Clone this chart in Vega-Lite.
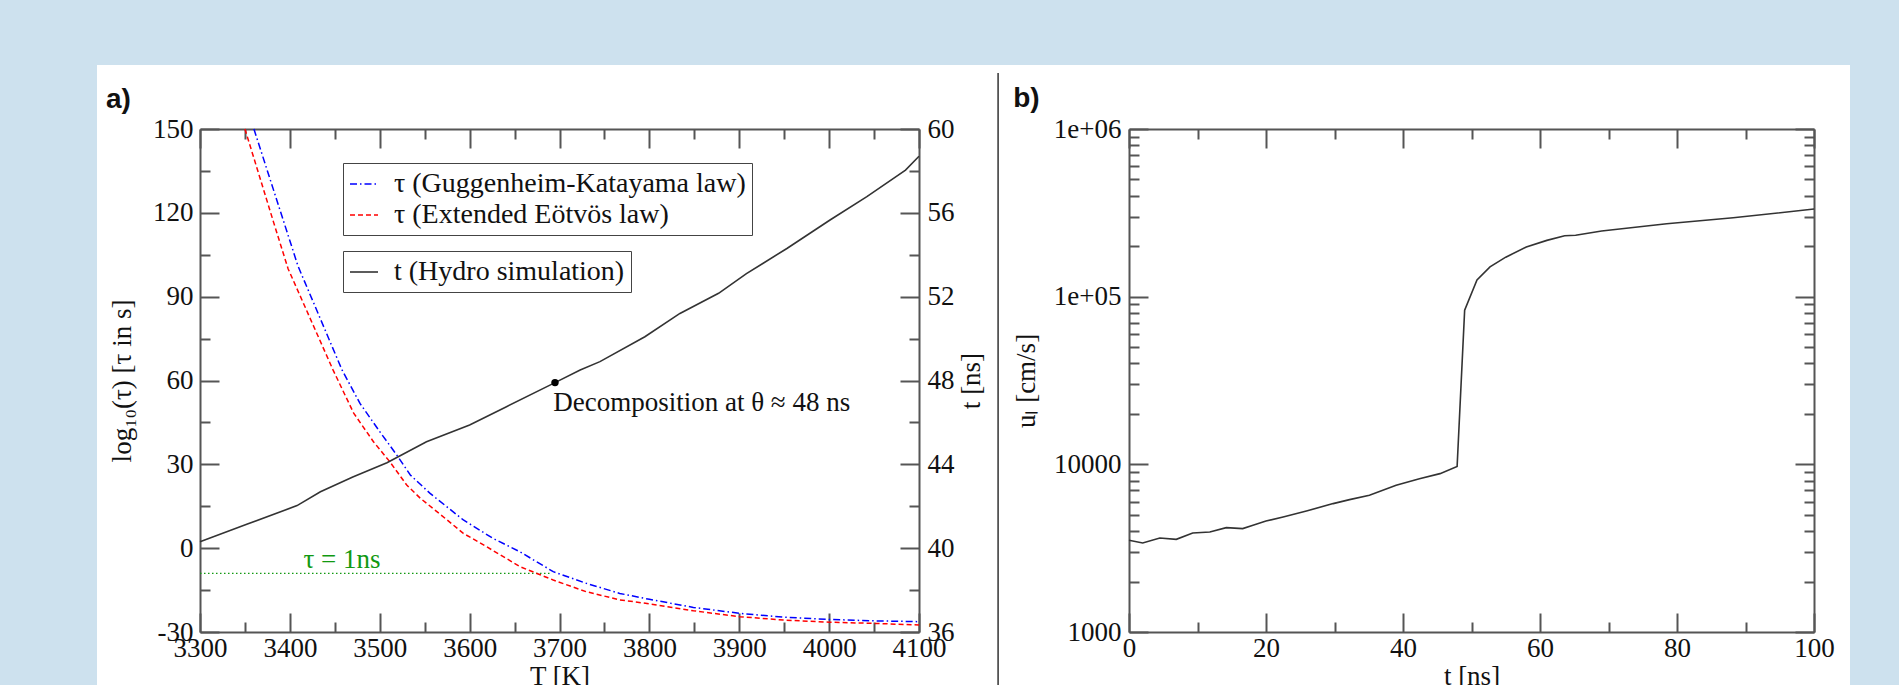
{
  "$schema": "https://vega.github.io/schema/vega-lite/v6.json",
  "width": 1753,
  "height": 620,
  "autosize": {"type": "none"},
  "padding": {"left": 97, "top": 65, "right": 49, "bottom": 0},
  "background": "#cde1ee",
  "view": {"fill": "white", "stroke": null},
  "config": {
    "font": "Liberation Serif",
    "axis": {
      "labelFont": "Liberation Serif", "titleFont": "Liberation Serif",
      "labelFontSize": 27, "titleFontSize": 27, "labelColor": "#111", "titleColor": "#111",
      "titleFontWeight": "normal", "domainColor": "#555", "tickColor": "#555",
      "domainWidth": 2, "tickWidth": 2, "grid": false, "labelOverlap": false,
      "labelFlush": false, "labelBound": false, "zindex": 1
    }
  },
  "datasets": {
    "tau": [
      {"T": 3360, "tau": 150, "series": "τ (Guggenheim-Katayama law)"},
      {"T": 3409, "tau": 101, "series": "τ (Guggenheim-Katayama law)"},
      {"T": 3458, "tau": 63.8, "series": "τ (Guggenheim-Katayama law)"},
      {"T": 3478, "tau": 51.8, "series": "τ (Guggenheim-Katayama law)"},
      {"T": 3500, "tau": 41.7, "series": "τ (Guggenheim-Katayama law)"},
      {"T": 3519, "tau": 33.3, "series": "τ (Guggenheim-Katayama law)"},
      {"T": 3534, "tau": 26.2, "series": "τ (Guggenheim-Katayama law)"},
      {"T": 3556, "tau": 19.6, "series": "τ (Guggenheim-Katayama law)"},
      {"T": 3593, "tau": 10.1, "series": "τ (Guggenheim-Katayama law)"},
      {"T": 3626, "tau": 3.5, "series": "τ (Guggenheim-Katayama law)"},
      {"T": 3656, "tau": -1.3, "series": "τ (Guggenheim-Katayama law)"},
      {"T": 3693, "tau": -8.4, "series": "τ (Guggenheim-Katayama law)"},
      {"T": 3730, "tau": -12.6, "series": "τ (Guggenheim-Katayama law)"},
      {"T": 3767, "tau": -16.2, "series": "τ (Guggenheim-Katayama law)"},
      {"T": 3800, "tau": -18.3, "series": "τ (Guggenheim-Katayama law)"},
      {"T": 3849, "tau": -21.2, "series": "τ (Guggenheim-Katayama law)"},
      {"T": 3900, "tau": -23.3, "series": "τ (Guggenheim-Katayama law)"},
      {"T": 3949, "tau": -24.7, "series": "τ (Guggenheim-Katayama law)"},
      {"T": 4000, "tau": -25.5, "series": "τ (Guggenheim-Katayama law)"},
      {"T": 4049, "tau": -26.0, "series": "τ (Guggenheim-Katayama law)"},
      {"T": 4100, "tau": -26.3, "series": "τ (Guggenheim-Katayama law)"},
      {"T": 3350, "tau": 150, "series": "τ (Extended Eötvös law)"},
      {"T": 3382, "tau": 116.5, "series": "τ (Extended Eötvös law)"},
      {"T": 3398, "tau": 100, "series": "τ (Extended Eötvös law)"},
      {"T": 3448, "tau": 63.8, "series": "τ (Extended Eötvös law)"},
      {"T": 3471, "tau": 48.3, "series": "τ (Extended Eötvös law)"},
      {"T": 3493, "tau": 38.1, "series": "τ (Extended Eötvös law)"},
      {"T": 3511, "tau": 31, "series": "τ (Extended Eötvös law)"},
      {"T": 3530, "tau": 22.6, "series": "τ (Extended Eötvös law)"},
      {"T": 3545, "tau": 17.9, "series": "τ (Extended Eötvös law)"},
      {"T": 3575, "tau": 10.1, "series": "τ (Extended Eötvös law)"},
      {"T": 3593, "tau": 5.3, "series": "τ (Extended Eötvös law)"},
      {"T": 3619, "tau": 0.5, "series": "τ (Extended Eötvös law)"},
      {"T": 3656, "tau": -6.6, "series": "τ (Extended Eötvös law)"},
      {"T": 3693, "tau": -11.4, "series": "τ (Extended Eötvös law)"},
      {"T": 3730, "tau": -15.6, "series": "τ (Extended Eötvös law)"},
      {"T": 3767, "tau": -18.5, "series": "τ (Extended Eötvös law)"},
      {"T": 3800, "tau": -19.9, "series": "τ (Extended Eötvös law)"},
      {"T": 3849, "tau": -22.4, "series": "τ (Extended Eötvös law)"},
      {"T": 3900, "tau": -24.5, "series": "τ (Extended Eötvös law)"},
      {"T": 3949, "tau": -25.7, "series": "τ (Extended Eötvös law)"},
      {"T": 4000, "tau": -26.5, "series": "τ (Extended Eötvös law)"},
      {"T": 4049, "tau": -26.9, "series": "τ (Extended Eötvös law)"},
      {"T": 4100, "tau": -27.5, "series": "τ (Extended Eötvös law)"}
    ],
    "onens": [{"T": 3300, "tau": -9}, {"T": 3690, "tau": -9}],
    "onens_label": [{"T": 3458, "tau": -4.2, "label": "τ = 1ns"}],
    "panel_a_label": [{"T": 3195.4, "tau": 160.4, "label": "a)"}],
    "divider": [{"T": 4188, "tau": 170, "tau2": -50}],
    "hydro": [
      {"T": 3300, "t": 40.31, "series": "t (Hydro simulation)"},
      {"T": 3352, "t": 41.14, "series": "t (Hydro simulation)"},
      {"T": 3408, "t": 42.03, "series": "t (Hydro simulation)"},
      {"T": 3434, "t": 42.69, "series": "t (Hydro simulation)"},
      {"T": 3470, "t": 43.4, "series": "t (Hydro simulation)"},
      {"T": 3508, "t": 44.08, "series": "t (Hydro simulation)"},
      {"T": 3552, "t": 45.08, "series": "t (Hydro simulation)"},
      {"T": 3600, "t": 45.88, "series": "t (Hydro simulation)"},
      {"T": 3641, "t": 46.75, "series": "t (Hydro simulation)"},
      {"T": 3695, "t": 47.9, "series": "t (Hydro simulation)"},
      {"T": 3723, "t": 48.5, "series": "t (Hydro simulation)"},
      {"T": 3745, "t": 48.9, "series": "t (Hydro simulation)"},
      {"T": 3795, "t": 50.09, "series": "t (Hydro simulation)"},
      {"T": 3834, "t": 51.2, "series": "t (Hydro simulation)"},
      {"T": 3877, "t": 52.16, "series": "t (Hydro simulation)"},
      {"T": 3908, "t": 53.1, "series": "t (Hydro simulation)"},
      {"T": 3953, "t": 54.3, "series": "t (Hydro simulation)"},
      {"T": 4001, "t": 55.66, "series": "t (Hydro simulation)"},
      {"T": 4042, "t": 56.77, "series": "t (Hydro simulation)"},
      {"T": 4085, "t": 58.04, "series": "t (Hydro simulation)"},
      {"T": 4100, "t": 58.7, "series": "t (Hydro simulation)"}
    ],
    "decomp": [{"T": 3695, "t": 47.9}],
    "decomp_label": [{"T": 3693, "t": 46.95, "label": "Decomposition at θ ≈ 48 ns"}],
    "ul": [
      {"t": 0, "u": 3522}, {"t": 2, "u": 3395}, {"t": 4.5, "u": 3636}, {"t": 6.9, "u": 3571},
      {"t": 9.3, "u": 3894}, {"t": 11.8, "u": 3947}, {"t": 14.2, "u": 4194}, {"t": 16.6, "u": 4137},
      {"t": 18.1, "u": 4328}, {"t": 20, "u": 4591}, {"t": 22.5, "u": 4851}, {"t": 25.9, "u": 5267},
      {"t": 29.8, "u": 5832}, {"t": 32.2, "u": 6159}, {"t": 35.1, "u": 6534}, {"t": 39, "u": 7495},
      {"t": 42.4, "u": 8215}, {"t": 45.4, "u": 8803}, {"t": 47.9, "u": 9700}, {"t": 49, "u": 83000},
      {"t": 50.8, "u": 126000}, {"t": 52.7, "u": 150500}, {"t": 55, "u": 172000}, {"t": 58, "u": 197600},
      {"t": 61, "u": 216600}, {"t": 63.6, "u": 231000}, {"t": 65.2, "u": 232500}, {"t": 69, "u": 246500},
      {"t": 78.5, "u": 272000}, {"t": 88.2, "u": 295500}, {"t": 100, "u": 333000}
    ],
    "panel_b_label": [{"t": -16.9, "u": 1510000, "label": "b)"}]
  },
  "resolve": {
    "scale": {"x": "independent", "y": "independent", "color": "independent", "strokeDash": "independent"},
    "axis": {"x": "independent", "y": "independent"},
    "legend": {"color": "independent", "strokeDash": "independent"}
  },
  "layer": [
    {
      "encoding": {
        "x": {"field": "T", "type": "quantitative",
          "scale": {"domain": [3300, 4100], "range": [103, 822], "nice": false, "zero": false},
          "axis": {"orient": "bottom", "offset": -53,
            "values": [3300, 3350, 3400, 3450, 3500, 3550, 3600, 3650, 3700, 3750, 3800, 3850, 3900, 3950, 4000, 4050, 4100],
            "labelExpr": "datum.value % 100 === 0 ? '' + datum.value : ''",
            "tickSize": {"condition": {"test": "datum.value % 100 === 0", "value": -19}, "value": -10},
            "labelPadding": 22, "title": "T [K]", "titlePadding": -7}},
        "y": {"field": "tau", "type": "quantitative",
          "scale": {"domain": [-30, 150], "range": [567, 64], "nice": false, "zero": false},
          "axis": {"orient": "left", "offset": -103,
            "values": [-30, -15, 0, 15, 30, 45, 60, 75, 90, 105, 120, 135, 150],
            "labelExpr": "datum.value % 30 === 0 ? '' + datum.value : ''",
            "tickSize": {"condition": {"test": "datum.value % 30 === 0", "value": -19}, "value": -10},
            "labelPadding": 26, "title": "log₁₀(τ) [τ in s]", "titlePadding": 16}}
      },
      "layer": [
        {"data": {"name": "divider"}, "mark": {"type": "rule", "color": "#333", "strokeWidth": 1.5}, "encoding": {"y2": {"field": "tau2"}}},
        {"data": {"name": "onens"}, "mark": {"type": "line", "color": "#119911", "strokeDash": [1.5, 2.5], "strokeWidth": 1.3}},
        {"data": {"name": "tau"}, "mark": {"type": "line", "strokeWidth": 1.5},
          "encoding": {
            "color": {"field": "series", "type": "nominal",
              "scale": {"domain": ["τ (Guggenheim-Katayama law)", "τ (Extended Eötvös law)"], "range": ["#0000ff", "#ff0000"]},
              "legend": {"orient": "none", "legendX": 246, "legendY": 98, "title": null, "symbolType": "stroke", "symbolSize": 784, "symbolStrokeWidth": 1.6, "labelFont": "Liberation Serif", "labelFontSize": 28, "labelColor": "#111", "labelOffset": 15, "labelLimit": 600, "padding": 6, "rowPadding": 2, "strokeColor": "#444", "fillColor": "white"}},
            "strokeDash": {"field": "series", "type": "nominal",
              "scale": {"domain": ["τ (Guggenheim-Katayama law)", "τ (Extended Eötvös law)"], "range": [[7, 3, 1.5, 3], [5, 3]]},
              "legend": {"orient": "none", "legendX": 246, "legendY": 98, "title": null, "symbolType": "stroke", "symbolSize": 784, "symbolStrokeWidth": 1.6, "labelFont": "Liberation Serif", "labelFontSize": 28, "labelColor": "#111", "labelOffset": 15, "labelLimit": 600, "padding": 6, "rowPadding": 2, "strokeColor": "#444", "fillColor": "white"}}
          }},
        {"data": {"name": "onens_label"}, "mark": {"type": "text", "color": "#119911", "font": "Liberation Serif", "fontSize": 27, "align": "center", "baseline": "middle"}, "encoding": {"text": {"field": "label"}}},
        {"data": {"name": "panel_a_label"}, "mark": {"type": "text", "color": "#111", "font": "Liberation Sans", "fontWeight": "bold", "fontSize": 28, "align": "left", "baseline": "middle"}, "encoding": {"text": {"field": "label"}}}
      ]
    },
    {
      "encoding": {
        "x": {"field": "T", "type": "quantitative",
          "scale": {"domain": [3300, 4100], "range": [103, 822], "nice": false, "zero": false},
          "axis": {"orient": "top", "offset": -64,
            "values": [3300, 3350, 3400, 3450, 3500, 3550, 3600, 3650, 3700, 3750, 3800, 3850, 3900, 3950, 4000, 4050, 4100],
            "labels": false,
            "tickSize": {"condition": {"test": "datum.value % 100 === 0", "value": -19}, "value": -10},
            "title": null}},
        "y": {"field": "t", "type": "quantitative",
          "scale": {"domain": [36, 60], "range": [567, 64], "nice": false, "zero": false},
          "axis": {"orient": "right", "offset": -931,
            "values": [36, 38, 40, 42, 44, 46, 48, 50, 52, 54, 56, 58, 60],
            "labelExpr": "datum.value % 4 === 0 ? '' + datum.value : ''",
            "tickSize": {"condition": {"test": "datum.value % 4 === 0", "value": -19}, "value": -10},
            "labelPadding": 27, "title": "t [ns]", "titleAngle": -90, "titleBaseline": "top", "titlePadding": 4}}
      },
      "layer": [
        {"data": {"name": "hydro"}, "mark": {"type": "line", "strokeWidth": 1.6},
          "encoding": {"color": {"field": "series", "type": "nominal",
            "scale": {"domain": ["t (Hydro simulation)"], "range": ["#333333"]},
            "legend": {"orient": "none", "legendX": 246, "legendY": 186, "title": null, "symbolType": "stroke", "symbolSize": 784, "symbolStrokeWidth": 1.6, "labelFont": "Liberation Serif", "labelFontSize": 28, "labelColor": "#111", "labelOffset": 15, "labelLimit": 600, "padding": 6, "rowPadding": 2, "strokeColor": "#444", "fillColor": "white"}}}},
        {"data": {"name": "decomp"}, "mark": {"type": "point", "filled": true, "color": "#000", "size": 55, "opacity": 1}},
        {"data": {"name": "decomp_label"}, "mark": {"type": "text", "color": "#111", "font": "Liberation Serif", "fontSize": 27, "align": "left", "baseline": "middle"}, "encoding": {"text": {"field": "label"}}}
      ]
    },
    {
      "data": {"name": "ul"},
      "mark": {"type": "line", "color": "#333", "strokeWidth": 1.6},
      "encoding": {
        "x": {"field": "t", "type": "quantitative",
          "scale": {"domain": [0, 100], "range": [1032, 1717], "nice": false, "zero": false},
          "axis": {"orient": "bottom", "offset": -53,
            "values": [0, 10, 20, 30, 40, 50, 60, 70, 80, 90, 100],
            "labelExpr": "datum.value % 20 === 0 ? '' + datum.value : ''",
            "tickSize": {"condition": {"test": "datum.value % 20 === 0", "value": -19}, "value": -10},
            "labelPadding": 22, "title": "t [ns]", "titlePadding": -7}},
        "y": {"field": "u", "type": "quantitative",
          "scale": {"type": "log", "domain": [1000, 1000000], "range": [567, 64], "nice": false},
          "axis": {"orient": "left", "offset": -1032,
            "values": [1000, 2000, 3000, 4000, 5000, 6000, 7000, 8000, 9000, 10000, 20000, 30000, 40000, 50000, 60000, 70000, 80000, 90000, 100000, 200000, 300000, 400000, 500000, 600000, 700000, 800000, 900000, 1000000],
            "labelExpr": "datum.value === 1000000 ? '1e+06' : datum.value === 100000 ? '1e+05' : datum.value === 10000 ? '10000' : datum.value === 1000 ? '1000' : ''",
            "tickSize": {"condition": {"test": "datum.value === 1000 || datum.value === 10000 || datum.value === 100000 || datum.value === 1000000", "value": -19}, "value": -10},
            "labelPadding": 27, "title": "uₗ [cm/s]", "titlePadding": 13}}
      }
    },
    {
      "data": {"name": "panel_b_label"},
      "mark": {"type": "text", "color": "#111", "font": "Liberation Sans", "fontWeight": "bold", "fontSize": 28, "align": "left", "baseline": "middle"},
      "encoding": {
        "x": {"field": "t", "type": "quantitative",
          "scale": {"domain": [0, 100], "range": [1032, 1717], "nice": false, "zero": false},
          "axis": {"orient": "top", "offset": -64,
            "values": [0, 10, 20, 30, 40, 50, 60, 70, 80, 90, 100],
            "labels": false,
            "tickSize": {"condition": {"test": "datum.value % 20 === 0", "value": -19}, "value": -10},
            "title": null}},
        "y": {"field": "u", "type": "quantitative",
          "scale": {"type": "log", "domain": [1000, 1000000], "range": [567, 64], "nice": false},
          "axis": {"orient": "right", "offset": -36,
            "values": [1000, 2000, 3000, 4000, 5000, 6000, 7000, 8000, 9000, 10000, 20000, 30000, 40000, 50000, 60000, 70000, 80000, 90000, 100000, 200000, 300000, 400000, 500000, 600000, 700000, 800000, 900000, 1000000],
            "labels": false,
            "tickSize": {"condition": {"test": "datum.value === 1000 || datum.value === 10000 || datum.value === 100000 || datum.value === 1000000", "value": -19}, "value": -10},
            "title": null}},
        "text": {"field": "label"}
      }
    }
  ]
}
